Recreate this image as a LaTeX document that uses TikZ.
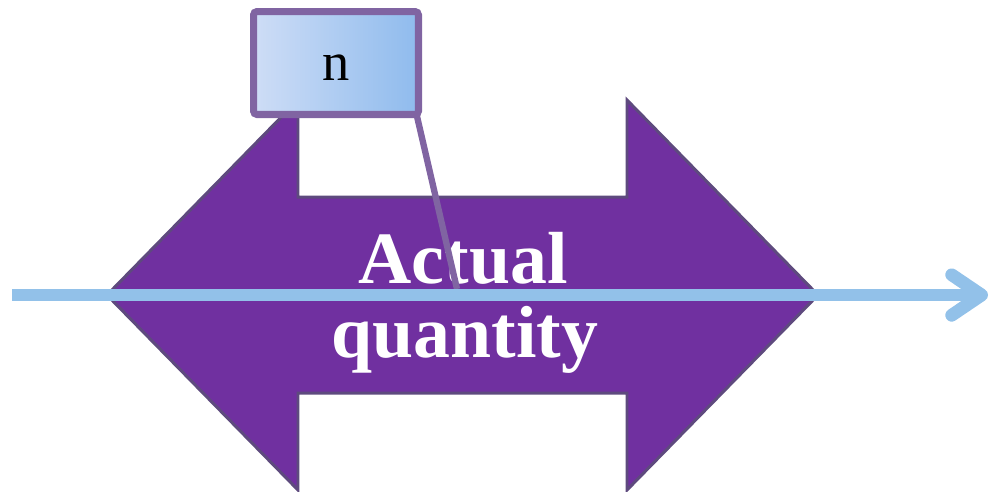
\documentclass[tikz,border=0pt]{standalone}
\usepackage{fontspec}
\setmainfont{Liberation Serif}
\usetikzlibrary{arrows.meta,shadows}

\definecolor{bandpurple}{RGB}{112,48,160}
\definecolor{bandedge}{RGB}{94,74,126}
\definecolor{axisblue}{RGB}{146,193,233}
\definecolor{calloutedge}{RGB}{128,100,162}
\definecolor{calloutlight}{RGB}{206,221,246}
\definecolor{calloutdark}{RGB}{143,187,237}

\begin{document}
\begin{tikzpicture}[x=0.02cm, y=-0.02cm,
    band/.style={fill=bandpurple, draw=bandedge, line width=1.7pt},
    qtytext/.style={anchor=base, inner sep=0pt, text=white,
        font=\fontsize{42}{42}\selectfont\bfseries},
    axis/.style={draw=axisblue, line width=7.3pt,
        -{Straight Barb[length=17pt, width=23pt, round]}},
    pointer/.style={draw=calloutedge, line width=3.6pt},
    callout/.style={draw=calloutedge, line width=4pt, rounded corners=2pt,
        left color=calloutlight, right color=calloutdark,
        minimum width=3.3cm, minimum height=2.06cm,
        text height=20pt, text depth=0pt,
        font=\fontsize{31}{31}\selectfont,
        drop shadow={opacity=0.25, shadow xshift=1.5pt, shadow yshift=-1.5pt}}]
    \useasboundingbox (0,0) rectangle (991,491);

    % Double arrow
    \draw[band] (107,295) -- (298,100) -- (298,197) -- (627,197) -- (627,100)
        -- (818,295) -- (627,490) -- (627,393) -- (298,393) -- (298,490) -- cycle;

    \node[qtytext] (actual) at (463,283) {Actual};
    \node[qtytext] (quantity) at (465,357) {quantity};

    % Callout pointer
    \coordinate (tip) at (457,289);
    \draw[pointer] (416,112) -- (tip);

    % Number line
    \coordinate (axisL) at (12,295);
    \coordinate (axisR) at (988,295);
    \draw[axis] (axisL) -- (axisR);

    % Callout box
    \node[callout] (nbox) at (336,63) {n};
\end{tikzpicture}
\end{document}
